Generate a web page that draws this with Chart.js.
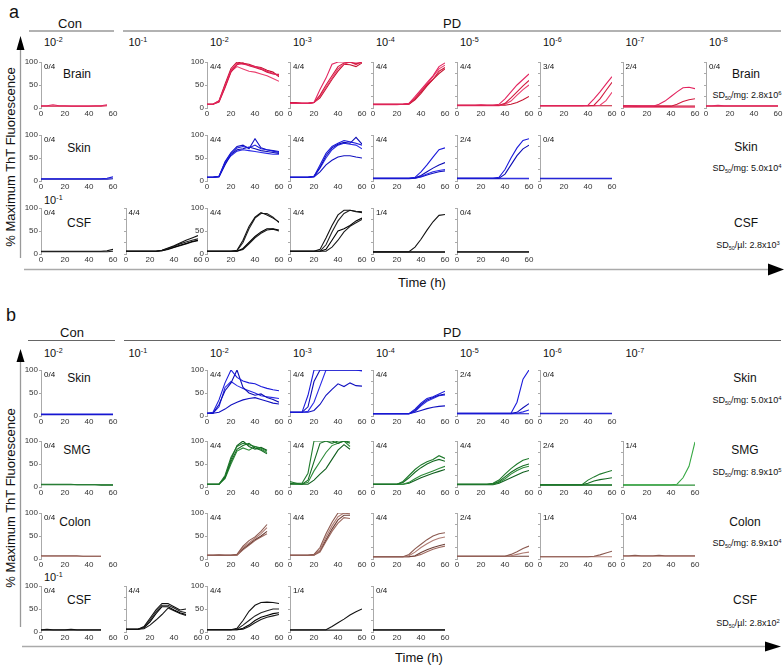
<!DOCTYPE html>
<html>
<head>
<meta charset="utf-8">
<script src="https://cdn.jsdelivr.net/npm/chart.js@4.4.0/dist/chart.umd.min.js"></script>
<style>
  html, body { margin: 0; padding: 0; background: #fff; }
  #fig { position: relative; width: 784px; height: 669px; overflow: hidden;
         font-family: "Liberation Sans", Arial, sans-serif; color: #111; }
  .lbl { position: absolute; white-space: nowrap; line-height: 1; }
  .c { transform: translate(-50%, -50%); }
  .l { transform: translateY(-50%); }
  .panel { position: absolute; }
  sup { font-size: 0.65em; vertical-align: 0; position: relative; top: -0.55em; }
  sub { font-size: 0.6em; vertical-align: 0; position: relative; top: 0.4em; }
  svg { position: absolute; left: 0; top: 0; }
</style>
</head>
<body>
<div id="fig">
  <svg width="784" height="669">
    <!-- part a frame -->
    <line x1="29" y1="31" x2="114" y2="31" stroke="#666" stroke-width="1.2"/>
    <line x1="123" y1="31" x2="781" y2="31" stroke="#666" stroke-width="1.2"/>
    <line x1="20.5" y1="48" x2="20.5" y2="258" stroke="#999" stroke-width="1.3"/>
    <polygon points="16.5,50 24.5,50 20.5,36" fill="#000"/>
    <line x1="24" y1="269.5" x2="770" y2="269.5" stroke="#aaa" stroke-width="1.5"/>
    <polygon points="768,263.5 768,275.5 784,269.5" fill="#000"/>
    <!-- part b frame -->
    <line x1="28" y1="340.5" x2="115" y2="340.5" stroke="#666" stroke-width="1.2"/>
    <line x1="124" y1="340.5" x2="781" y2="340.5" stroke="#666" stroke-width="1.2"/>
    <line x1="20.5" y1="360" x2="20.5" y2="627" stroke="#999" stroke-width="1.3"/>
    <polygon points="16.5,362 24.5,362 20.5,349" fill="#000"/>
    <line x1="22" y1="646.5" x2="768" y2="646.5" stroke="#aaa" stroke-width="1.5"/>
    <polygon points="765,641.5 765,651.5 781,646.5" fill="#000"/>
  </svg>

  <div class="lbl l" style="left:9px;top:12px;font-size:18px;">a</div>
  <div class="lbl l" style="left:6px;top:315px;font-size:18px;">b</div>

  <div class="lbl c" style="left:70px;top:22.5px;font-size:13px;">Con</div>
  <div class="lbl c" style="left:452px;top:22.5px;font-size:13px;">PD</div>
  <div class="lbl c" style="left:72px;top:331.5px;font-size:13px;">Con</div>
  <div class="lbl c" style="left:452px;top:331.5px;font-size:13px;">PD</div>

  <div class="lbl c" style="left:10px;top:157px;font-size:13px;transform:translate(-50%,-50%) rotate(-90deg);">% Maximum ThT Fluorescence</div>
  <div class="lbl c" style="left:10px;top:498px;font-size:13px;transform:translate(-50%,-50%) rotate(-90deg);">% Maximum ThT Fluorescence</div>
  <div class="lbl c" style="left:422px;top:282px;font-size:13px;">Time (h)</div>
  <div class="lbl c" style="left:419px;top:657px;font-size:13px;">Time (h)</div>

  <!-- row names inside Con panels -->
  <div class="lbl c" style="left:77px;top:74px;font-size:12px;">Brain</div>
  <div class="lbl c" style="left:79px;top:148px;font-size:12px;">Skin</div>
  <div class="lbl c" style="left:79px;top:223px;font-size:12px;">CSF</div>
  <div class="lbl c" style="left:79px;top:378px;font-size:12px;">Skin</div>
  <div class="lbl c" style="left:77px;top:450px;font-size:12px;">SMG</div>
  <div class="lbl c" style="left:75px;top:521.5px;font-size:12px;">Colon</div>
  <div class="lbl c" style="left:79px;top:600px;font-size:12px;">CSF</div>

  <div class="lbl l" style="left:44px;top:201px;font-size:11px;">10<sup>-1</sup></div>
  <div class="lbl l" style="left:44px;top:578px;font-size:11px;">10<sup>-1</sup></div>

  <!-- right side -->
  <div class="lbl c" style="left:746px;top:74px;font-size:12px;">Brain</div>
  <div class="lbl c" style="left:747px;top:95px;font-size:9px;">SD<sub>50</sub>/mg: 2.8x10<sup>6</sup></div>
  <div class="lbl c" style="left:746px;top:147px;font-size:12px;">Skin</div>
  <div class="lbl c" style="left:747px;top:168px;font-size:9px;">SD<sub>50</sub>/mg: 5.0x10<sup>4</sup></div>
  <div class="lbl c" style="left:746px;top:223px;font-size:12px;">CSF</div>
  <div class="lbl c" style="left:748px;top:245px;font-size:9px;">SD<sub>50</sub>/µl: 2.8x10<sup>3</sup></div>

  <div class="lbl c" style="left:745px;top:378px;font-size:12px;">Skin</div>
  <div class="lbl c" style="left:747px;top:400px;font-size:9px;">SD<sub>50</sub>/mg: 5.0x10<sup>4</sup></div>
  <div class="lbl c" style="left:745px;top:450px;font-size:12px;">SMG</div>
  <div class="lbl c" style="left:747px;top:472px;font-size:9px;">SD<sub>50</sub>/mg: 8.9x10<sup>5</sup></div>
  <div class="lbl c" style="left:745px;top:521.5px;font-size:12px;">Colon</div>
  <div class="lbl c" style="left:747px;top:543px;font-size:9px;">SD<sub>50</sub>/mg: 8.9x10<sup>4</sup></div>
  <div class="lbl c" style="left:745px;top:600px;font-size:12px;">CSF</div>
  <div class="lbl c" style="left:748px;top:623px;font-size:9px;">SD<sub>50</sub>/µl: 2.8x10<sup>2</sup></div>
</div>

<script>
/* ---------- Data (% max ThT fluorescence, read every 5 h) ---------- */
const TIME = [0, 5, 10, 15, 20, 25, 30, 35, 40, 45, 50, 55, 60];
const DILUTIONS_A = ["-2", "-1", "-2", "-3", "-4", "-5", "-6", "-7", "-8"];
const DILUTIONS_B = ["-2", "-1", "-2", "-3", "-4", "-5", "-6", "-7"];

// a - Brain
const aBrainCon = [[5,5,7,5,5,4,4,4,4,5,5,7],[4,4,4,4,4,4,4,4,4,4,4,5]];
const aBrain2 = [[8,8,15,48,82,97,95,93,90,86,80,75,70],[8,8,13,44,78,94,98,92,88,84,78,74,73],
                 [8,8,14,46,80,90,85,80,78,74,70,64,58],[8,8,16,52,86,100,97,95,90,88,82,78,68]];
const aBrain3 = [[10,10,10,10,12,40,65,95,100,100,100,100,100],[12,12,10,10,12,28,50,70,90,98,100,96,100],
                 [10,10,10,10,12,25,45,65,85,95,100,94,100],[10,10,10,10,12,22,42,62,80,95,94,90,98]];
const aBrain4 = [[8,8,8,8,8,8,10,25,40,55,70,90,98],[8,8,8,8,8,8,9,20,35,50,62,80,88],
                 [7,7,7,7,7,8,10,22,38,52,68,85,93],[8,8,8,8,8,8,8,18,32,48,62,75,85]];
const aBrain5 = [[6,6,6,6,7,6,6,8,20,35,50,62,74],[6,6,6,6,6,6,6,6,10,22,35,48,60],
                 [5,5,5,5,5,5,5,5,8,15,28,40,50],[6,6,6,6,6,6,6,6,6,8,12,18,25]];
const aBrain6 = [[5,5,5,5,5,5,5,5,6,20,35,52,68],[5,5,5,5,5,5,5,5,5,6,20,38,56],
                 [5,5,5,5,5,5,5,5,5,5,6,16,34],[5,5,5,5,5,5,5,5,5,5,5,5,5]];
const aBrain7 = [[5,5,5,4,4,4,8,15,25,35,44,45,42],[4,4,4,4,4,4,4,4,4,8,14,18,20],
                 [2,2,2,2,2,2,2,2,2,2,2,2,2],[5,5,4,4,4,4,4,4,4,4,4,4,4]];
const aBrain8 = [[5,5,6,5,5,5,5,5,5,5,5,5,5],[4,4,4,4,4,4,4,4,4,4,4,4,4]];
const aBrainFrac = ["0/4", "4/4", "4/4", "4/4", "4/4", "3/4", "2/4", "0/4"];

// a - Skin
const aSkinCon = [[5,5,5,5,5,5,5,5,5,5,5,6,9],[4,4,4,4,4,4,4,4,4,4,4,4,5]];
const aSkin2 = [[8,8,10,40,60,72,75,72,78,70,68,65,62],[8,8,9,35,58,68,70,74,70,66,64,62,60],
                [8,8,10,38,55,65,68,66,64,62,60,58,58],[8,8,10,42,62,75,78,70,92,72,68,66,64]];
const aSkin3 = [[8,8,8,8,10,35,60,75,82,88,85,82,78],[8,8,8,8,10,30,55,72,80,84,82,95,80],
                [8,8,8,8,10,28,50,68,78,82,80,78,70],[8,8,8,8,9,20,35,45,52,55,55,52,50]];
const aSkin4 = [[6,6,6,6,6,6,6,8,20,35,52,68,72],[6,6,6,6,6,6,6,7,12,20,28,35,40],
                [6,6,6,6,6,6,6,6,10,15,20,23,25],[5,5,5,5,5,5,5,6,9,13,17,20,22]];
const aSkin5 = [[6,6,6,6,6,6,6,8,25,50,72,88,92],[6,6,6,6,6,6,6,6,15,35,55,70,78],
                [6,6,6,6,6,6,6,6,6,6,6,6,6],[5,5,5,5,5,5,5,5,5,5,5,5,5]];
const aSkin6 = [[6,6,6,6,6,6,6,6,6,6,6,6,6],[5,5,5,5,5,5,5,5,5,5,5,5,5]];
const aSkinFrac = ["0/4", "4/4", "4/4", "4/4", "2/4", "0/4"];

// a - CSF
const aCsfCon = [[6,6,6,6,6,6,6,6,6,6,6,7,10],[5,5,5,5,5,5,5,5,5,5,5,5,6]];
const aCsf1 = [[6,6,6,6,6,6,8,13,18,24,30,35,40],[6,6,6,6,6,6,8,12,17,22,26,30,33],
               [6,6,6,6,6,6,7,11,15,19,23,27,30],[6,6,6,6,6,6,7,10,14,18,22,26,29]];
const aCsf2 = [[6,6,6,6,6,8,30,60,80,90,85,78,70],[6,6,6,6,6,7,25,55,78,88,88,80,68],
               [6,6,6,6,6,6,12,25,38,48,55,55,52],[6,6,6,6,6,6,10,22,35,45,52,54,50]];
const aCsf3 = [[6,6,6,6,6,10,35,62,85,95,95,93,92],[6,6,6,6,6,6,20,48,72,88,95,92,90],
               [6,6,6,6,6,6,10,30,50,55,62,72,78],[6,6,6,6,6,6,6,15,30,48,60,68,75]];
const aCsf4 = [[5,5,5,5,5,5,5,15,32,52,70,84,86],[5,5,5,5,5,5,5,5,5,5,5,5,5],[4,4,4,4,4,4,4,4,4,4,4,4,4]];
const aCsf5 = [[5,5,5,5,5,5,5,5,5,5,5,5,5],[4,4,4,4,4,4,4,4,4,4,4,4,4]];
const aCsfFrac = ["0/4", "4/4", "4/4", "4/4", "1/4", "0/4"];

// b - Skin
const bSkinCon = [[4,4,4,4,4,4,4,4,4,4,4,4,4],[3,3,3,3,3,3,3,3,3,3,3,3,3]];
const bSkin2 = [[6,8,35,72,100,84,76,72,70,64,60,57,55],[6,6,25,55,72,100,62,50,45,48,40,36,30],
                [6,6,20,62,75,66,60,55,50,44,42,40,38],[6,6,8,15,24,30,35,38,40,36,32,28,26]];
const bSkin3 = [[8,8,8,45,100,100,100,100,100,100,100,100,98],[8,8,8,20,75,100,100,100,100,100,100,100,100],
                [8,8,8,10,30,65,100,100,100,100,100,100,100],[8,8,8,8,12,25,45,58,70,64,72,66,65]];
const bSkin4 = [[5,5,5,5,5,5,5,15,28,38,42,48,54],[5,5,5,5,5,5,5,12,25,35,40,45,48],
                [5,5,5,5,5,5,5,10,22,32,38,44,46],[5,5,5,5,5,5,5,8,12,16,19,21,22]];
const bSkin5 = [[6,6,6,6,6,6,6,6,6,6,30,80,100],[6,6,6,6,6,6,6,6,6,6,8,18,27],
                [5,5,5,5,5,5,5,5,5,5,6,9,13],[5,5,5,5,5,5,5,5,5,5,5,5,5]];
const bSkin6 = [[6,6,6,6,6,6,6,6,6,6,6,6,6],[5,5,5,5,5,5,5,5,5,5,5,5,5]];
const bSkinFrac = ["0/4", "4/4", "4/4", "4/4", "2/4", "0/4"];

// b - SMG (submandibular gland)
const bSmgCon = [[6,6,6,6,6,6,5,5,5,5,5,5,5],[5,5,5,5,5,5,5,5,5,5,4,4,4]];
const bSmg2 = [[6,6,6,25,65,88,95,92,88,85,78],[6,6,6,20,55,82,90,95,85,80,72],
               [6,6,6,18,50,78,85,80,88,82,75],[6,6,6,22,60,90,100,88,82,86,80]];
const bSmg3 = [[12,8,8,30,100,100,100,95,100,100,98],[8,8,6,15,55,95,100,100,95,100,95],
               [8,6,6,10,35,55,75,90,95,100,88],[6,6,6,6,15,28,40,60,80,92,82]];
const bSmg4 = [[6,6,6,6,6,12,25,38,48,55,60,68,62],[6,6,6,6,6,10,20,32,42,50,56,60,56],
               [6,6,6,6,6,6,10,18,25,30,35,40,45],[6,6,6,6,6,6,8,14,20,25,30,34,38]];
const bSmg5 = [[6,6,6,6,6,6,8,15,28,40,50,58,62],[6,6,6,6,6,6,7,12,22,32,40,46,50],
               [6,6,6,6,6,6,6,10,18,28,36,42,45],[5,5,5,5,5,5,5,8,14,20,26,32,36]];
const bSmg6 = [[5,5,5,5,5,5,5,5,15,22,28,32,36],[5,5,5,5,5,5,5,5,8,13,16,18,20],
               [5,5,5,5,5,5,5,5,5,5,5,5,5],[4,4,4,4,4,4,4,4,4,4,4,4,4]];
const bSmg7 = [[5,5,5,5,5,5,5,5,5,6,20,45,98],[4,4,4,4,4,4,4,4,4,4,4,4,4]];
const bSmgFrac = ["0/4", "4/4", "4/4", "4/4", "4/4", "2/4", "1/4"];

// b - Colon
const bColonCon = [[7,7,7,7,7,7,7,6,6,6,6],[6,6,6,6,6,6,6,6,6,6,6]];
const bColon2 = [[8,8,9,8,8,10,28,40,48,60,75],[8,8,8,8,8,9,25,35,45,55,68],
                 [8,8,8,8,8,9,22,32,42,50,60],[8,8,8,8,8,8,20,30,40,48,55]];
const bColon3 = [[8,8,8,8,10,25,55,80,100,100,100],[8,8,8,8,9,20,48,72,92,100,98],
                 [8,8,8,8,9,18,42,65,85,95,95],[8,8,8,8,8,15,38,60,78,90,88]];
const bColon4 = [[5,5,5,5,5,5,10,22,32,42,50,55,57],[5,5,5,5,5,5,7,15,25,33,40,45,48],
                 [5,5,5,5,5,5,5,7,14,20,25,29,32],[5,5,5,5,5,5,5,6,10,16,21,25,28]];
const bColon5 = [[6,6,6,6,6,6,6,6,6,10,16,23,28],[6,6,6,6,6,6,6,6,6,7,10,13,15],
                 [6,6,6,6,6,6,6,6,6,6,6,6,6]];
const bColon6 = [[5,5,5,5,5,5,5,5,5,6,9,13,17],[5,5,5,5,5,5,5,5,5,5,5,5,5]];
const bColon7 = [[7,7,8,7,7,7,8,7,7,7,7,7,7],[6,6,6,6,6,6,6,6,6,6,6,6,6]];
const bColonFrac = ["0/4", "4/4", "4/4", "4/4", "2/4", "1/4", "0/4"];

// b - CSF
const bCsfCon = [[5,6,5,5,5,6,5,5,5,5,5],[4,4,4,4,4,4,4,4,4,4,4]];
const bCsf1 = [[6,6,6,12,30,48,62,62,55,48,50],[6,6,6,10,26,44,58,58,52,45,42],
               [6,6,6,9,22,40,55,55,48,42,38],[6,6,6,7,15,26,38,52,46,40,36]];
const bCsf2 = [[5,5,5,5,5,8,25,45,58,64,65,64,62],[5,5,5,5,5,6,15,25,35,42,46,50,50],
               [5,5,5,5,5,5,8,15,25,32,36,40,42],[5,5,5,5,5,5,6,12,20,27,32,35,38]];
const bCsf3 = [[5,5,5,5,5,5,5,12,20,28,37,44,50],[4,4,4,4,4,4,4,4,4,4,4,4,4]];
const bCsf4 = [[5,5,5,5,5,5,5,5,5,5,5,5,5],[4,4,4,4,4,4,4,4,4,4,4,4,4]];
const bCsfFrac = ["0/4", "4/4", "4/4", "1/4", "0/4"];

/* ---------- Styles ---------- */
const BRAIN = ["#e3245f", "#d11a3e", "#ea3f6e", "#c4142f"];
const BLUE = ["#1a1adb", "#0c0cb4", "#2a2ae6", "#1010c0"];
const BLACK = ["#111111", "#222222", "#000000", "#1a1a1a"];
const GREEN = ["#1f7a2c", "#156b22", "#2c8a38", "#0f5e1d"];
const GREEN_LIGHT = ["#36a843", "#2b8f36"];
const COLON = ["#8c5a50", "#b07c73", "#6e4038", "#9e6a60"];

/* ---------- Layout ---------- */
const COL_X = [41, 125.5, 207, 290, 373, 457, 540, 622.5, 706];
const PLOT_W = 72, PLOT_H = 46, YAX_W = 24, XAX_H = 13, PAD_T = 6, PAD_R = 12;

const ROWS = [
  { y: 62,    cols: [0,2,3,4,5,6,7,8], sets: [aBrainCon,aBrain2,aBrain3,aBrain4,aBrain5,aBrain6,aBrain7,aBrain8], frac: aBrainFrac, colors: BRAIN },
  { y: 134.5, cols: [0,2,3,4,5,6],     sets: [aSkinCon,aSkin2,aSkin3,aSkin4,aSkin5,aSkin6], frac: aSkinFrac, colors: BLUE },
  { y: 207.5, cols: [0,1,2,3,4,5],     sets: [aCsfCon,aCsf1,aCsf2,aCsf3,aCsf4,aCsf5], frac: aCsfFrac, colors: BLACK },
  { y: 370,   cols: [0,2,3,4,5,6],     sets: [bSkinCon,bSkin2,bSkin3,bSkin4,bSkin5,bSkin6], frac: bSkinFrac, colors: BLUE },
  { y: 440.5, cols: [0,2,3,4,5,6,7],   sets: [bSmgCon,bSmg2,bSmg3,bSmg4,bSmg5,bSmg6,bSmg7], frac: bSmgFrac, colors: GREEN },
  { y: 513,   cols: [0,2,3,4,5,6,7],   sets: [bColonCon,bColon2,bColon3,bColon4,bColon5,bColon6,bColon7], frac: bColonFrac, colors: COLON },
  { y: 586,   cols: [0,1,2,3,4],       sets: [bCsfCon,bCsf1,bCsf2,bCsf3,bCsf4], frac: bCsfFrac, colors: BLACK }
];

Chart.defaults.font.family = '"Liberation Sans", Arial, sans-serif';

document.addEventListener("DOMContentLoaded", function () {
  const fig = document.getElementById("fig");

  DILUTIONS_A.forEach((d, i) => addLabel(fig, COL_X[i] + 3, 42.5, `10<sup>${d}</sup>`, 11));
  DILUTIONS_B.forEach((d, i) => addLabel(fig, COL_X[i] + 3, 354, `10<sup>${d}</sup>`, 11));

  ROWS.forEach((row, r) => {
    row.cols.forEach((col, k) => {
      let colors = row.colors;
      if (r === 4 && col === 7) colors = GREEN_LIGHT;
      makePanel(fig, COL_X[col], row.y, row.sets[k], colors, col === 0 || col === 2);
      addLabel(fig, COL_X[col] + 3, row.y + 5, row.frac[k], 8);
    });
  });
});

function addLabel(fig, x, y, html, size) {
  const el = document.createElement("div");
  el.className = "lbl l";
  el.style.left = x + "px";
  el.style.top = y + "px";
  el.style.fontSize = size + "px";
  el.innerHTML = html;
  fig.appendChild(el);
}

function makePanel(fig, x0, y100, curves, colors, showY) {
  const w = YAX_W + PLOT_W + PAD_R;
  const h = PAD_T + PLOT_H + XAX_H;
  const cv = document.createElement("canvas");
  cv.className = "panel";
  cv.width = w;
  cv.height = h;
  cv.style.width = w + "px";
  cv.style.height = h + "px";
  cv.style.left = Math.round(x0 - YAX_W) + "px";
  cv.style.top = Math.round(y100 - PAD_T) + "px";
  fig.appendChild(cv);

  new Chart(cv, {
    type: "line",
    data: {
      datasets: curves.map((vals, i) => ({
        data: vals.map((v, j) => ({ x: TIME[j], y: v })),
        borderColor: colors[i % colors.length],
        borderWidth: 1.1,
        pointRadius: 0,
        tension: 0,
        fill: false
      }))
    },
    options: {
      responsive: false,
      animation: false,
      devicePixelRatio: 1,
      layout: { padding: { top: PAD_T, right: PAD_R, left: 0, bottom: 0 } },
      plugins: { legend: { display: false }, tooltip: { enabled: false } },
      scales: {
        x: {
          type: "linear",
          min: 0,
          max: 60,
          ticks: { stepSize: 20, font: { size: 8 }, color: "#333", padding: 1, maxRotation: 0 },
          grid: { display: false, drawTicks: false },
          border: { display: false },
          afterFit: (s) => { s.height = XAX_H; }
        },
        y: {
          min: 0,
          max: 100,
          ticks: { stepSize: 25, display: showY, font: { size: 8 }, color: "#333", padding: 1 },
          grid: { drawOnChartArea: false, tickLength: 2, color: "#aaa" },
          border: { color: "#aaa" },
          afterFit: (s) => { s.width = YAX_W; }
        }
      }
    }
  });
}
</script>
</body>
</html>
